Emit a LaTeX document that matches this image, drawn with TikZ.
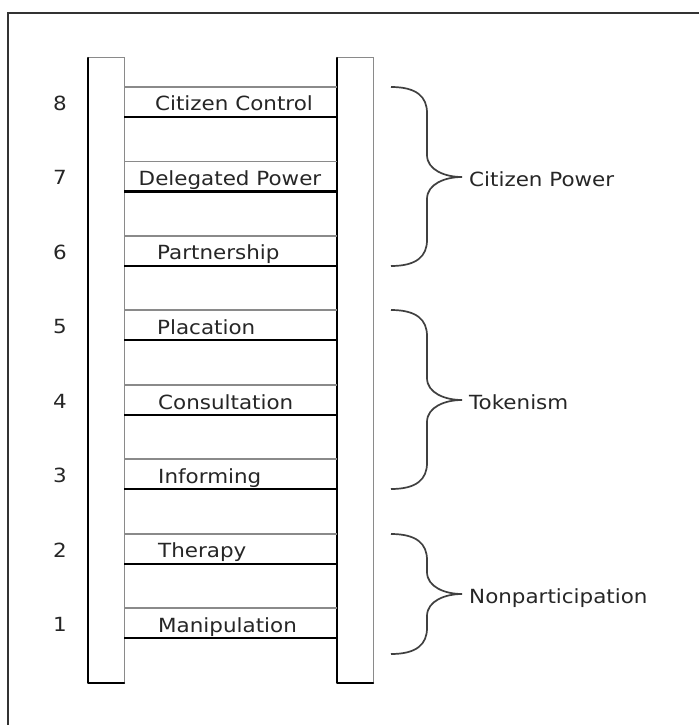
\documentclass[tikz,border=0pt]{standalone}
\usepackage{fontspec}
\setmainfont{DejaVu Sans}[FakeStretch=1.1]
\definecolor{txtc}{HTML}{262626}
\definecolor{litec}{HTML}{8A8A8A}
\definecolor{bracec}{HTML}{404040}
\begin{document}
\begin{tikzpicture}[x=1pt,y=-1pt,
  framec/.style={draw=black!80,line width=1.3pt},
  railthin/.style={draw=litec,line width=1pt},
  railthick/.style={draw=black,line width=2.4pt,line cap=round,line join=round},
  rungtop/.style={draw=litec,line width=1.2pt},
  rungbot/.style={draw=black,line width=2.2pt},
  lbl/.style={text=txtc,font=\fontsize{19.5}{22}\selectfont,inner sep=0pt},
  num/.style={text=txtc,font=\fontsize{19.5}{22}\selectfont,inner sep=0pt,anchor=base},
  brc/.style={draw=bracec,line width=1.7pt},
  grp/.style={text=txtc,font=\fontsize{19.5}{22}\selectfont,inner sep=0pt,anchor=base west}]
\useasboundingbox (0,0) rectangle (699,725);
\fill[white] (0,0) rectangle (699,725);
% frame
\coordinate (fbl) at (8,725);
\coordinate (ftl) at (8,13);
\coordinate (ftr) at (699,13);
\draw[framec] (fbl) -- (ftl) -- (ftr);
% rails
\coordinate (lrtl) at (88,58);
\coordinate (lrbr) at (124,683);
\coordinate (lrbl) at (88,683);
\coordinate (rrtl) at (337,58);
\coordinate (rrbr) at (373,683);
\coordinate (rrbl) at (337,683);
\draw[railthin] (lrtl) rectangle (lrbr);
\draw[railthin] (rrtl) rectangle (rrbr);
\draw[railthick] (lrtl) -- (lrbl) -- (lrbr);
\draw[railthick] (rrtl) -- (rrbl) -- (rrbr);
% rungs
\foreach \c/\n in {102/8,176.5/7,251/6,325/5,400/4,474/3,549/2,623/1}{
  \coordinate (rt\n a) at (124,\c-15);
  \coordinate (rt\n b) at (337,\c-15);
  \coordinate (rb\n a) at (124,\c+15);
  \coordinate (rb\n b) at (337,\c+15);
  \draw[rungtop] (rt\n a) -- (rt\n b);
  \draw[rungbot] (rb\n a) -- (rb\n b);
  \node[num] (n\n) at (60,\c+8) {\n};
}
% labels
\node[lbl,anchor=base] (l8) at (234,110) {Citizen Control};
\node[lbl,anchor=base] (l7) at (230,185.5) {Delegated Power};
\node[lbl,anchor=base west] (l6) at (157,259) {Partnership};
\node[lbl,anchor=base west] (l5) at (157,334) {Placation};
\node[lbl,anchor=base west] (l4) at (158,409) {Consultation};
\node[lbl,anchor=base west] (l3) at (158,483) {Informing};
\node[lbl,anchor=base west] (l2) at (158,557) {Therapy};
\node[lbl,anchor=base west] (l1) at (158,632) {Manipulation};
% braces
\foreach \t/\b/\m/\txt/\nm in {87/266/177/Citizen Power/g3,310/489/400/Tokenism/g2,534/654/594/Nonparticipation/g1}{
  \draw[brc] (391,\t) .. controls (417,\t) and (427,\t+10) .. (427,\t+26)
    -- (427,\m-22) .. controls (427,\m-7) and (445,\m) .. (462,\m)
    .. controls (445,\m) and (427,\m+7) .. (427,\m+22)
    -- (427,\b-26) .. controls (427,\b-10) and (417,\b) .. (391,\b);
  \node[grp] (\nm) at (469,\m+9) {\txt};
}
\end{tikzpicture}
\end{document}
